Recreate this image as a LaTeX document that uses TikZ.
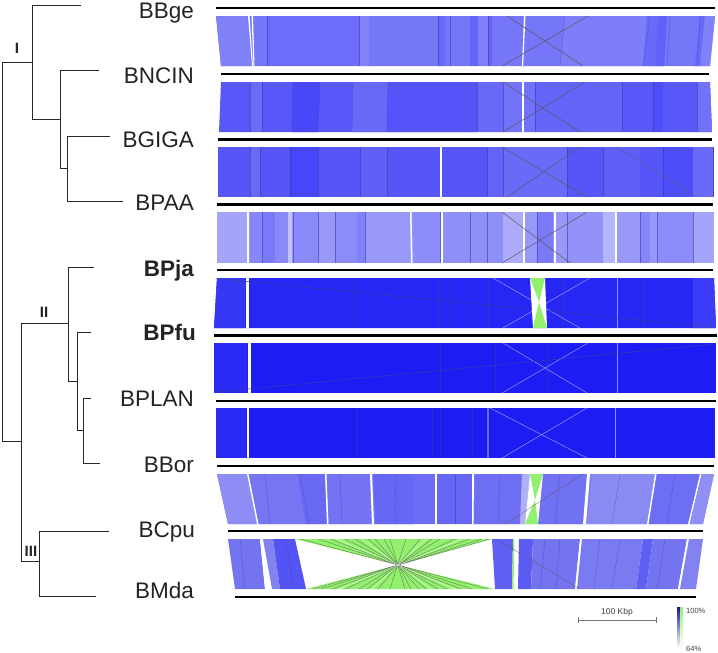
\documentclass[tikz,border=0pt]{standalone}
\usepackage{fontspec}
\setmainfont{Liberation Sans}
\definecolor{b1}{RGB}{118,118,248}
\definecolor{b2}{RGB}{88,88,248}
\definecolor{b3}{RGB}{86,86,248}
\definecolor{b4}{RGB}{152,152,248}
\definecolor{b5}{RGB}{38,38,245}
\definecolor{b6}{RGB}{28,28,243}
\definecolor{b8}{RGB}{128,128,242}
\definecolor{b9}{RGB}{116,116,240}
\definecolor{grn}{RGB}{146,240,110}
\definecolor{seam}{RGB}{60,60,170}
\definecolor{treec}{RGB}{40,40,40}
\definecolor{txt}{RGB}{35,35,35}
\definecolor{legtop}{RGB}{25,25,150}
\definecolor{legmid}{RGB}{110,110,235}
\definecolor{legg}{RGB}{150,240,115}
\newcommand\yt{0}
\newcommand\yb{0}
\newcommand\setband[2]{\renewcommand\yt{#1}\renewcommand\yb{#2}}
\newcommand\stripes[1]{\foreach \a/\b/\c/\d/\col in {#1}
  {\fill[\col] (\a,\yt) -- (\b,\yt) -- (\d,\yb) -- (\c,\yb) -- cycle;}}
\newcommand\seams[2]{\foreach \a/\c in {#1}{\draw[#2] (\a,\yt) -- (\c,\yb);}}
\tikzset{
  genome/.style={line width=2.2pt,black},
  branch/.style={line width=0.9pt,treec},
  taxon/.style={anchor=base east,font=\fontsize{22.5}{24}\selectfont,text=txt,inner sep=0pt},
  taxonb/.style={taxon,font=\fontsize{22.5}{24}\selectfont\bfseries},
  clade/.style={font=\fontsize{15}{16}\selectfont\bfseries,text=txt,inner sep=0pt},
  seamline/.style={seam,line width=0.3pt,opacity=0.6},
  xline/.style={black!65,line width=0.5pt},
  lightx/.style={blue!30!white,line width=0.5pt,opacity=0.8},
  small/.style={font=\fontsize{8.5}{9}\selectfont,text=black!75,inner sep=0pt},
}
\begin{document}
\begin{tikzpicture}[x=1pt,y=-1pt]
\useasboundingbox (0,0) rectangle (718,653);

% ---------------- band 1 ----------------
\setband{16}{66}
\fill[b1] (216,16) -- (715,16) -- (710,66) -- (221,66) -- cycle;
\stripes{216/247/221/251/b1!93!white, 248/249.5/252/253/white, 251.5/253/253.5/254.5/white,
  267/359/267/359/b1!92!blue, 359/369/359/369/b1!92!white,
  438/445/438/445/b1!88!blue, 470/478/470/478/b1!85!blue,
  478/488/478/488/b1!93!white, 488/492/488/492/b1!85!blue,
  524/525.5/522/523.2/white, 565/647/560/643/b1!94!white,
  647/658/643/655/b1!90!blue, 658/667/655/664/b1!82!blue,
  700/705/695/700/b1!88!blue, 705/715/700/710/b1!93!white}
\seams{267/267, 359/359, 438/438, 450/450, 488/488, 565/560, 650/643, 670/667, 700/697}{seamline}
\draw[xline] (507,16) -- (583,66);
\draw[xline] (588,16) -- (502,66);

% ---------------- band 2 ----------------
\setband{82}{132}
\fill[b2] (221,82) -- (710,82) -- (712,132) -- (219,132) -- cycle;
\stripes{250/262/250/262/b2!88!white, 293/320/292/318/b2!82!blue,
  353/388/352/387/b2!90!white, 388/477/387/477/b2!95!blue,
  477/503/477/503/b2!90!white, 503/522/503/522/b2!84!white,
  522/524/522/524/white, 524/535/524/535/b2!85!white,
  535/622/535/622/b2!93!white, 653/663/653/663/b2!88!blue,
  697/710/697/712/b2!85!white}
\seams{250/250, 262/262, 293/292, 320/318, 353/352, 388/387, 477/477, 503/503, 535/535, 622/622, 653/653, 697/697}{seamline}
\draw[xline] (503,82) -- (580,132);
\draw[xline] (585,82) -- (503,132);

% ---------------- band 3 ----------------
\setband{147}{197}
\fill[b3] (218,147) -- (714,147) -- (714,197) -- (218,197) -- cycle;
\stripes{250/260/250/260/b3!88!white, 290/318/290/318/b3!82!blue,
  360/387/360/387/b3!94!white, 440/441.5/440/441.5/white,
  487/503/487/503/b3!92!white, 503/567/503/567/b3!88!white,
  603/640/603/640/b3!95!white, 663/693/663/693/b3!90!blue,
  693/713/693/713/b3!88!white}
\seams{250/250, 260/260, 290/290, 318/318, 360/360, 387/387, 487/487, 503/503, 567/567, 603/603, 663/663, 713/713}{seamline}
\draw[xline] (502,147) -- (587,197);
\draw[xline] (580,147) -- (507,197);
\draw[xline,opacity=0.6] (617,147) -- (697,197);

% ---------------- band 4 ----------------
\setband{212}{263}
\fill[b4] (217,212) -- (714,212) -- (714,263) -- (217,263) -- cycle;
\stripes{217/247/217/247/b4!88!white, 247/248.5/247/248.5/white,
  250/262/250/262/b4!88!blue, 262/275/262/275/b4!80!blue,
  275/288/275/288/b4!90!blue, 288/292/288/292/b4!60!white,
  293/318/293/318/b4!90!blue, 335/357/335/357/b4!92!blue,
  357/365/357/365/b4!84!blue, 410/411.5/411/412.5/white,
  413/440/414/440/b4!92!blue, 441/442.5/441/442.5/white,
  443/503/443/503/b4!94!blue, 503/523/503/523/b4!82!white,
  523/524.5/523/524.5/white, 537/553/537/553/b4!80!blue,
  554/555.5/554/555.5/white, 567/603/567/603/b4!96!blue,
  603/615/603/615/b4!72!white, 615/616.5/615/616.5/white,
  640/650/640/650/b4!88!blue, 657/693/657/693/b4!92!blue,
  693/714/693/714/b4!88!white}
\seams{262/262, 293/293, 318/318, 335/335, 365/365, 440/440, 470/470, 487/487, 537/537, 567/567, 640/640, 657/657, 693/693}{seamline}
\draw[xline] (502,212) -- (570,263);
\draw[xline] (587,212) -- (502,263);

% ---------------- band 5 ----------------
\setband{278}{328}
\fill[b5] (217,278) -- (714,278) -- (716,328) -- (214,328) -- cycle;
\stripes{217/245/214/245/b5!92!white, 246/248.5/246/248.5/white,
  693/714/693/716/b5!90!white}
\seams{357/357, 438/438, 450/450, 488/488, 563/563, 643/643}{seamline}
\draw[lightx] (617,278) -- (617,328);
\draw[lightx] (493,278) -- (580,328);
\draw[lightx] (590,278) -- (503,328);
\draw[seam,line width=0.5pt] (221,279) -- (712,327);
\fill[white] (530,278) -- (545,278) -- (547,328) -- (533,328) -- cycle;
\fill[grn] (530,278) -- (545,278) -- (539,302) -- cycle;
\fill[grn] (533,328) -- (547,328) -- (539,302) -- cycle;

% ---------------- band 6 ----------------
\setband{343}{393}
\fill[b6] (214,343) -- (716,343) -- (716,393) -- (214,393) -- cycle;
\stripes{214/247/214/247/b6!94!white, 248/250.5/248/250.5/white}
\seams{440/440, 495/495, 547/547}{seamline}
\draw[lightx] (617,343) -- (617,393);
\draw[lightx] (503,343) -- (587,393);
\draw[lightx] (588,343) -- (502,393);
\draw[seam,line width=0.5pt] (217,392) -- (715,344);

% ---------------- band 7 ----------------
\setband{408}{458}
\fill[b6] (216,408) -- (715,408) -- (715,458) -- (216,458) -- cycle;
\stripes{216/246/216/246/b6!94!white, 246.5/248.5/246.5/248.5/white,
  487/489/487/489/b6!65!white}
\seams{357/357, 432/432, 440/440, 472/472}{seamline}
\draw[lightx] (615,408) -- (615,458);
\draw[lightx] (490,408) -- (587,458);
\draw[lightx] (587,408) -- (502,458);

% ---------------- band 8 ----------------
\setband{474}{524}
\fill[b8] (217,474) -- (714,474) -- (703,524) -- (228,524) -- cycle;
\stripes{217/247/228/257/b8!90!white, 247/248.5/257/258.5/white,
  249/297/259/306/b8!92!blue, 297/325/306/327/b8!82!blue,
  325/326.5/327/328.5/white, 327/370/329/372/b8!90!blue,
  370/372/372/374/white, 373/413/375/413/b8!80!blue,
  413/435/413/435/b8!84!blue, 435/436.5/435/436.5/white,
  437/472/437/472/b8!80!blue, 472/474/472/473.5/white,
  475/522/474/520/b8!86!blue, 522/530/520/525/b8!62!white,
  543/587/538/583/b8!88!blue, 587/590/583/586/white,
  592/655/587/647/b8!92!white, 655/656.5/647/648.5/white,
  657/700/649/688/b8!86!blue, 700/701.5/688/689.5/white,
  702/714/690/703/b8!88!white}
\seams{265/270, 300/309, 340/342, 395/396, 455/455, 500/498, 560/555, 620/612, 675/667}{seamline}
\fill[white] (530,474) -- (543,474) -- (538,524) -- (525,524) -- cycle;
\fill[grn] (530,474) -- (543,474) -- (535,500) -- cycle;
\fill[grn] (525,524) -- (538,524) -- (535,500) -- cycle;
\draw[xline,opacity=0.6] (583,474) -- (505,524);

% ---------------- band 9 ----------------
\setband{539}{589}
\stripes{228/260/235/265/b9, 260/262.5/265/270/white,
  263/273/272/280/b9!90!white, 273/295/280/306/b9!72!blue,
  492/513/495/512/b9!82!blue, 513/514.5/512/513.5/grn,
  515/518/514/517/white, 519/533/518/531/b9!78!blue,
  533/580/531/575/b9, 580/581.5/575/576.5/white,
  582/643/577/636/b9!95!white, 643/653/636/646/b9!82!blue,
  653/687/646/678/b9, 687/688.5/678/679.5/white,
  689/703/680/696/b9!90!white}
\seams{240/245, 285/294, 545/540, 560/556, 600/594, 620/612, 665/657}{seamline}
\fill[grn] (295,539) -- (492,539) -- (398,565) -- cycle;
\fill[grn] (306,589) -- (495,589) -- (398,565) -- cycle;
\foreach \a/\c in {300/488, 318/472, 330/461, 345/447, 355/438, 368/426, 375/419, 384/411, 390/405, 406/390, 420/378, 432/367, 440/359, 455/345, 470/332, 482/321, 490/313}
  {\draw[black!70,line width=0.3pt,opacity=0.8] (\a,539) -- (\c,589);}
\foreach \a/\c in {336/455, 362/431, 426/372, 462/339}
  {\draw[white,line width=0.5pt,opacity=0.7] (\a,539) -- (\c,589);}
\draw[xline,opacity=0.6] (496,539) -- (580,589);

% ---------------- genome lines ----------------
\draw[genome] (216,8) -- (715,8);
\draw[genome] (221,74) -- (709,74);
\draw[genome] (218,139.5) -- (712,139.5);
\draw[genome] (217,204.5) -- (713,204.5);
\draw[genome] (217,270) -- (713,270);
\draw[genome] (214,335.5) -- (717,335.5);
\draw[genome] (216,401) -- (716,401);
\draw[genome] (217,466) -- (714,466);
\draw[genome] (228,531) -- (703,531);
\draw[genome] (235,597) -- (696,597);

% ---------------- tree ----------------
\coordinate (root) at (2,62);
\coordinate (nI) at (32,62);
\coordinate (nIb) at (60,119);
\coordinate (nIc) at (67,168);
\coordinate (low) at (21,441);
\coordinate (nII) at (68,323);
\coordinate (nIIb) at (77,381);
\coordinate (nIIc) at (83,430);
\coordinate (nIII) at (39,561);
\draw[branch] (root) -- (2,441) -- (low);
\draw[branch] (root) -- (nI);
\draw[branch] (81,5) -| (32,119) -- (nIb);
\draw[branch] (99,70) -| (60,168) -- (nIc);
\draw[branch] (110,136) -| (67,201) -- (123,201);
\draw[branch] (nII) -- (21,323) -- (21,561) -- (nIII);
\draw[branch] (94,267) -| (68,381) -- (nIIb);
\draw[branch] (91,332) -| (77,430) -- (nIIc);
\draw[branch] (91,398) -| (83,463) -- (100,463);
\draw[branch] (109,531) -| (39,596) -- (96,596);

\node[clade] (cI) at (17,48) {I};
\node[clade] (cII) at (44,312) {II};
\node[clade] (cIII) at (31,551) {III};

% ---------------- taxa ----------------
\node[taxon] (t1) at (194,19) {BBge};
\node[taxon] (t2) at (194,83) {BNCIN};
\node[taxon] (t3) at (194,147) {BGIGA};
\node[taxon] (t4) at (194,210) {BPAA};
\node[taxonb] (t5) at (194,276) {BPja};
\node[taxonb] (t6) at (196,340) {BPfu};
\node[taxon] (t7) at (194,406) {BPLAN};
\node[taxon] (t8) at (194,472) {BBor};
\node[taxon] (t9) at (195,537) {BCpu};
\node[taxon] (t10) at (194,598) {BMda};

% ---------------- scale bar ----------------
\coordinate (sbl) at (578,620);
\coordinate (sbr) at (656,620);
\draw[black!55,line width=0.6pt] (sbl) -- (sbr);
\draw[black!55,line width=0.6pt] (578,617) -- (578,623);
\draw[black!55,line width=0.6pt] (656,617) -- (656,623);
\node[small] (sbt) at (617,612) {100 Kbp};

% ---------------- legend ----------------
\shade[top color=legtop, middle color=legmid, bottom color=white] (677,607) rectangle (680,648);
\shade[top color=legg, bottom color=white] (680,607) rectangle (683,648);
\node[small,anchor=west,font=\fontsize{7.5}{8}\selectfont] (l100) at (686,611) {100\%};
\node[small,anchor=west,font=\fontsize{7.5}{8}\selectfont] (l64) at (686,649) {64\%};
\end{tikzpicture}
\end{document}
